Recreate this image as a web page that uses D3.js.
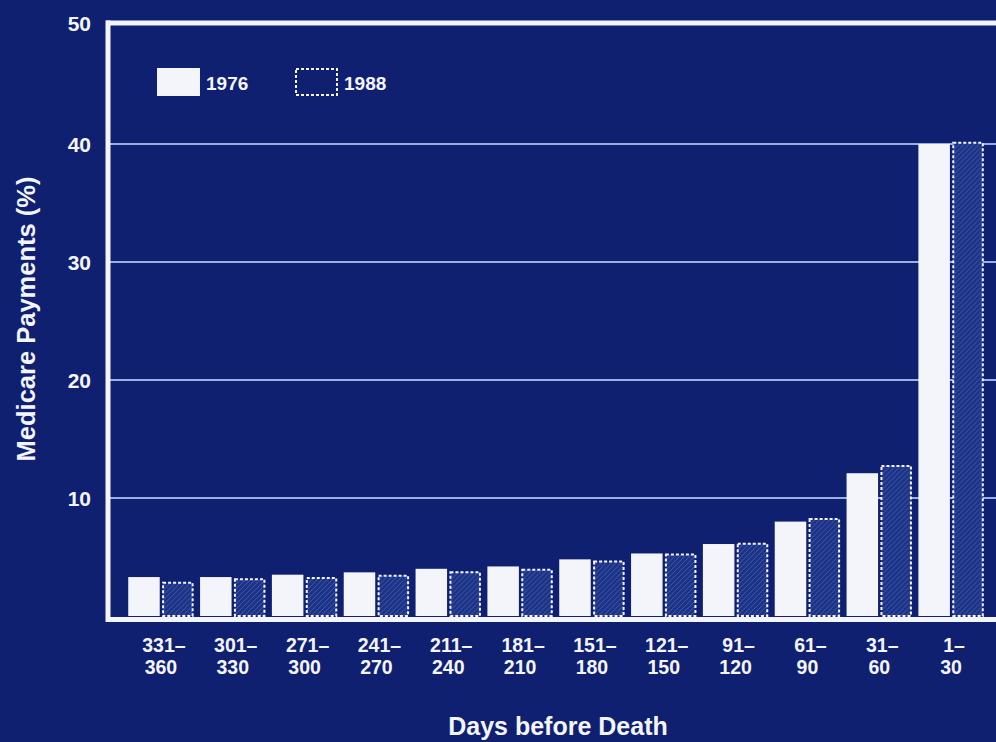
<!DOCTYPE html>
<html>
<head>
<meta charset="utf-8">
<script src="https://cdn.jsdelivr.net/npm/d3@7"></script>
<style>
  html, body { margin: 0; padding: 0; background: #0f2070; }
  svg { display: block; }
</style>
</head>
<body>
<svg id="chart" width="996" height="742"></svg>
<script>
const categories = ["331–360","301–330","271–300","241–270","211–240","181–210","151–180","121–150","91–120","61–90","31–60","1–30"];
const series = ["1976", "1988"];
const values1976 = [3.3, 3.3, 3.5, 3.7, 4.0, 4.2, 4.8, 5.3, 6.1, 8.0, 12.1, 40.0];
const values1988 = [2.9, 3.2, 3.3, 3.5, 3.8, 4.0, 4.7, 5.3, 6.2, 8.3, 12.8, 40.2];
const yTicks = [10, 20, 30, 40, 50];

const W = 996, H = 742;
const bg = "#0f2070", white = "#f4f5fa", grid = "#9ab0e2";
const font = "'Liberation Sans', Arial, Helvetica, sans-serif";

const svg = d3.select("#chart");
svg.append("rect").attr("width", W).attr("height", H).attr("fill", bg);

const defs = svg.append("defs");
const pat = defs.append("pattern").attr("id", "hatch")
  .attr("patternUnits", "userSpaceOnUse").attr("width", 5).attr("height", 5);
pat.append("rect").attr("width", 5).attr("height", 5).attr("fill", "#1c3386");
pat.append("path").attr("d", "M-1,1 l2,-2 M0,5 l5,-5 M4,6 l2,-2")
  .attr("stroke", "#3d57a8").attr("stroke-width", 1);

const x0 = d3.scaleBand().domain(categories).range([125, 987])
  .paddingInner(0.09).paddingOuter(0.045);
const x1 = d3.scaleBand().domain(series).range([0, x0.bandwidth()]).paddingInner(0.07);
const y = d3.scaleLinear().domain([0, 50]).range([616, 26]);

// gridlines
svg.append("g").selectAll("line").data(yTicks.filter(d => d < 50)).join("line")
  .attr("x1", 110).attr("x2", W)
  .attr("y1", d => y(d)).attr("y2", d => y(d))
  .attr("stroke", grid).attr("stroke-width", 2);

// bars
const data = categories.map((c, i) => ({ c, v: [values1976[i], values1988[i]] }));
const g = svg.append("g").selectAll("g").data(data).join("g")
  .attr("transform", d => `translate(${x0(d.c)},0)`);

g.append("rect")
  .attr("x", x1("1976")).attr("width", x1.bandwidth())
  .attr("y", d => y(d.v[0])).attr("height", d => y(0) - y(d.v[0]))
  .attr("fill", white);

g.append("rect")
  .attr("x", x1("1988") + 1).attr("width", x1.bandwidth() - 2)
  .attr("y", d => y(d.v[1]) + 1).attr("height", d => y(0) - y(d.v[1]) - 1)
  .attr("fill", "url(#hatch)")
  .attr("stroke", white).attr("stroke-width", 2).attr("stroke-dasharray", "3,2");

// axes frame
svg.append("line").attr("x1", 106).attr("x2", W).attr("y1", y(50) - 3).attr("y2", y(50) - 3)
  .attr("stroke", white).attr("stroke-width", 5);
svg.append("line").attr("x1", 108).attr("x2", 108).attr("y1", y(50) - 5.5).attr("y2", y(0) + 6)
  .attr("stroke", white).attr("stroke-width", 5);
svg.append("line").attr("x1", 106).attr("x2", W).attr("y1", y(0) + 3.5).attr("y2", y(0) + 3.5)
  .attr("stroke", white).attr("stroke-width", 5);

// y tick labels
svg.append("g").selectAll("text").data(yTicks).join("text")
  .attr("x", 91).attr("y", d => y(d) + (d === 50 ? -3 : 0)).attr("dy", "0.36em")
  .attr("text-anchor", "end")
  .attr("font-family", font).attr("font-weight", "bold").attr("font-size", 21)
  .attr("fill", white).text(d => d);

// x tick labels
const xl = svg.append("g").selectAll("text").data(categories).join("text")
  .attr("text-anchor", "middle")
  .attr("font-family", font).attr("font-weight", "bold").attr("font-size", 19.5)
  .attr("fill", white);
xl.append("tspan").attr("x", d => x0(d) + x0.bandwidth() / 2 + 3).attr("y", 652)
  .text(d => d.split("–")[0] + "–");
xl.append("tspan").attr("x", d => x0(d) + x0.bandwidth() / 2).attr("y", 674)
  .text(d => d.split("–")[1]);

// axis titles
svg.append("text")
  .attr("transform", `translate(35,${319}) rotate(-90)`)
  .attr("text-anchor", "middle")
  .attr("font-family", font).attr("font-weight", "bold").attr("font-size", 25.5)
  .attr("fill", white).text("Medicare Payments (%)");

svg.append("text")
  .attr("x", 558).attr("y", 735).attr("text-anchor", "middle")
  .attr("font-family", font).attr("font-weight", "bold").attr("font-size", 25)
  .attr("fill", white).text("Days before Death");

// legend
const leg = svg.append("g");
leg.append("rect").attr("x", 157).attr("y", 68).attr("width", 43).attr("height", 28).attr("fill", white);
leg.append("text").attr("x", 206).attr("y", 90)
  .attr("font-family", font).attr("font-weight", "bold").attr("font-size", 19)
  .attr("fill", white).text(series[0]);
leg.append("rect").attr("x", 296).attr("y", 69).attr("width", 41).attr("height", 26)
  .attr("fill", "none").attr("stroke", white).attr("stroke-width", 2).attr("stroke-dasharray", "3,2");
leg.append("text").attr("x", 344).attr("y", 90)
  .attr("font-family", font).attr("font-weight", "bold").attr("font-size", 19)
  .attr("fill", white).text(series[1]);
</script>
</body>
</html>
